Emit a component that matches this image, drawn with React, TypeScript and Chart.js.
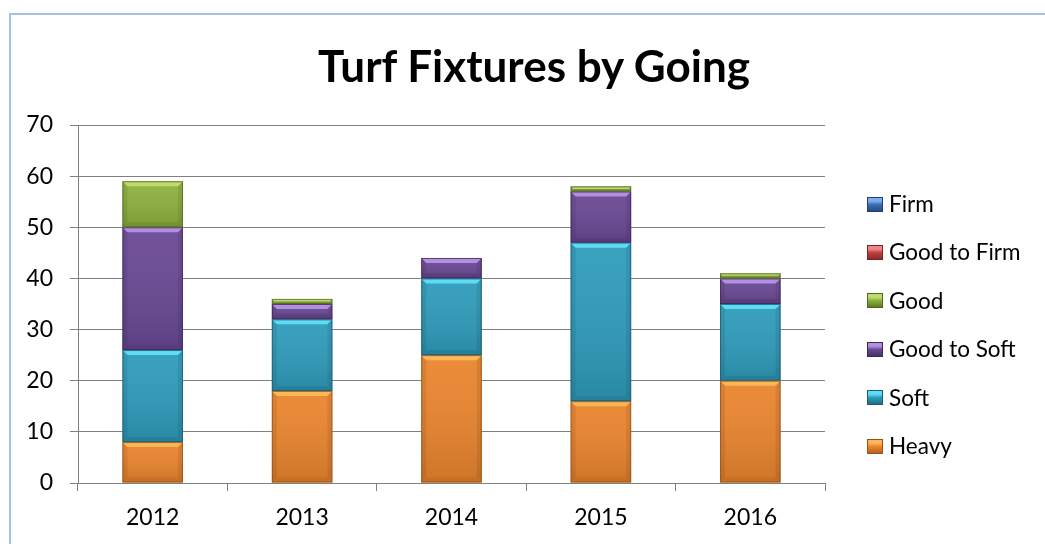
import React, { useEffect, useRef } from "react";
import { Chart, registerables } from "chart.js";

Chart.register(...registerables);

// ---- Data ----
const title = "Turf Fixtures by Going";
const years = ["2012", "2013", "2014", "2015", "2016"];
const seriesNames = ["Heavy", "Soft", "Good to Soft", "Good", "Good to Firm", "Firm"];
const heavy = [8, 18, 25, 16, 20];
const soft = [18, 14, 15, 31, 15];
const goodToSoft = [24, 3, 4, 10, 5];
const good = [9, 1, 0, 1, 1];
const goodToFirm = [0, 0, 0, 0, 0];
const firm = [0, 0, 0, 0, 0];
const seriesValues = [heavy, soft, goodToSoft, good, goodToFirm, firm];
const yMin = 0;
const yMax = 70;
const yStep = 10;

// ---- Styles ----
const FONT = "Lato, 'Liberation Sans', sans-serif";
const seriesStyles = [
  { fill: "#EA852E", light: "#FDB756", dark: "#B8611D", edge: "#98511A" },
  { fill: "#2F9CBB", light: "#5CDDF3", dark: "#1F6E86", edge: "#1B5D72" },
  { fill: "#6A4995", light: "#B290DF", dark: "#4A3169", edge: "#3E2958" },
  { fill: "#8DB13E", light: "#BEDC6E", dark: "#5E7A26", edge: "#51691F" },
  { fill: "#C0423F", light: "#F08683", dark: "#8A2B29", edge: "#7A2523" },
  { fill: "#3D6EB6", light: "#7AADEC", dark: "#284B82", edge: "#223F70" },
];
const GRID = "#808080";

const bevelPlugin = {
  id: "bevel",
  afterDatasetsDraw(chart: any) {
    const ctx = chart.ctx as CanvasRenderingContext2D;
    chart.data.datasets.forEach((_ds: any, di: number) => {
      const meta = chart.getDatasetMeta(di);
      if (meta.hidden) return;
      const st = seriesStyles[di];
      meta.data.forEach((el: any) => {
        const p = el.getProps(["x", "y", "base", "width"], true);
        const left = p.x - p.width / 2;
        const right = p.x + p.width / 2;
        const top = Math.min(p.y, p.base);
        const bottom = Math.max(p.y, p.base);
        const h = bottom - top;
        if (h < 0.5) return;
        const b = Math.min(5, h / 2);
        ctx.save();
        // body gradient overlay
        const g = ctx.createLinearGradient(0, top, 0, bottom);
        g.addColorStop(0, "rgba(255,255,255,0.05)");
        g.addColorStop(1, "rgba(0,0,0,0.12)");
        ctx.fillStyle = g;
        ctx.fillRect(left, top, right - left, h);
        // sides
        ctx.fillStyle = "rgba(0,0,0,0.08)";
        ctx.beginPath();
        ctx.moveTo(left, top);
        ctx.lineTo(left + b, top + b);
        ctx.lineTo(left + b, bottom - b);
        ctx.lineTo(left, bottom);
        ctx.closePath();
        ctx.fill();
        ctx.beginPath();
        ctx.moveTo(right, top);
        ctx.lineTo(right - b, top + b);
        ctx.lineTo(right - b, bottom - b);
        ctx.lineTo(right, bottom);
        ctx.closePath();
        ctx.fill();
        // top highlight
        ctx.fillStyle = st.light;
        ctx.beginPath();
        ctx.moveTo(left, top);
        ctx.lineTo(right, top);
        ctx.lineTo(right - b, top + b);
        ctx.lineTo(left + b, top + b);
        ctx.closePath();
        ctx.fill();
        // bottom shade
        ctx.fillStyle = st.dark;
        ctx.globalAlpha = 0.35;
        ctx.beginPath();
        ctx.moveTo(left, bottom);
        ctx.lineTo(right, bottom);
        ctx.lineTo(right - b, bottom - b);
        ctx.lineTo(left + b, bottom - b);
        ctx.closePath();
        ctx.fill();
        ctx.globalAlpha = 1;
        // outline
        ctx.strokeStyle = st.edge;
        ctx.globalAlpha = 0.8;
        ctx.lineWidth = 1;
        ctx.strokeRect(left + 0.5, top + 0.5, right - left - 1, h - 1);
        ctx.restore();
      });
    });
  },
};

export default function App() {
  const canvasRef = useRef<HTMLCanvasElement | null>(null);

  useEffect(() => {
    if (!canvasRef.current) return;
    const chart = new Chart(canvasRef.current, {
      type: "bar",
      data: {
        labels: years,
        datasets: seriesNames.map((name, i) => ({
          label: name,
          data: seriesValues[i],
          backgroundColor: seriesStyles[i].fill,
          borderWidth: 0,
          categoryPercentage: 0.405,
          barPercentage: 1.0,
        })),
      },
      options: {
        animation: false,
        responsive: false,
        maintainAspectRatio: false,
        layout: { padding: { left: 0, top: 125, right: 220, bottom: 13 } },
        plugins: {
          legend: { display: false },
          title: { display: false },
          tooltip: { enabled: false },
        },
        scales: {
          x: {
            stacked: true,
            grid: {
              display: true,
              drawOnChartArea: false,
              drawTicks: true,
              tickLength: 8,
              color: GRID,
              lineWidth: 1,
              offset: true,
            },
            border: { display: true, color: GRID, width: 1 },
            ticks: { color: "#000", font: { family: FONT, size: 23 }, padding: 13 },
            afterFit: (s: any) => {
              s.height = 48;
            },
          },
          y: {
            stacked: true,
            min: yMin,
            max: yMax,
            ticks: {
              stepSize: yStep,
              color: "#000",
              font: { family: FONT, size: 23 },
              padding: 17,
            },
            grid: { color: GRID, lineWidth: 1, tickLength: 8 },
            border: { display: true, color: GRID, width: 1 },
            afterFit: (s: any) => {
              s.width = 78;
            },
          },
        },
      },
      plugins: [bevelPlugin],
    });
    return () => chart.destroy();
  }, []);

  const legendOrder = seriesNames.map((_, i) => i).reverse();

  return (
    <div
      style={{
        position: "fixed",
        left: 0,
        top: 0,
        width: 1045,
        height: 544,
        background: "#fff",
        overflow: "hidden",
        fontFamily: FONT,
      }}
    >
      <div
        style={{
          position: "absolute",
          left: 9,
          top: 13,
          width: 1100,
          height: 600,
          borderLeft: "2px solid #A7C1E3",
          borderTop: "2px solid #A7C1E3",
        }}
      />
      <canvas
        ref={canvasRef}
        width={1045}
        height={544}
        style={{ position: "absolute", left: 0, top: 0, width: 1045, height: 544 }}
      />
      <div
        style={{
          position: "absolute",
          left: 534,
          top: 43,
          transform: "translateX(-50%)",
          whiteSpace: "nowrap",
          fontSize: 44,
          lineHeight: "44px",
          fontWeight: 700,
          color: "#000",
        }}
      >
        {title}
      </div>
      {legendOrder.map((si, k) => {
        const st = seriesStyles[si];
        return (
          <div
            key={seriesNames[si]}
            style={{
              position: "absolute",
              left: 867,
              top: 193 + k * 48.4,
              height: 22,
              display: "flex",
              alignItems: "center",
              whiteSpace: "nowrap",
            }}
          >
            <div
              style={{
                width: 14,
                height: 13,
                border: `1px solid ${st.edge}`,
                background: `linear-gradient(to bottom, ${st.light} 0%, ${st.light} 25%, ${st.fill} 50%, ${st.dark} 100%)`,
                marginRight: 6,
              }}
            />
            <span style={{ fontSize: 22.5, lineHeight: "22px", color: "#000" }}>{seriesNames[si]}</span>
          </div>
        );
      })}
    </div>
  );
}
